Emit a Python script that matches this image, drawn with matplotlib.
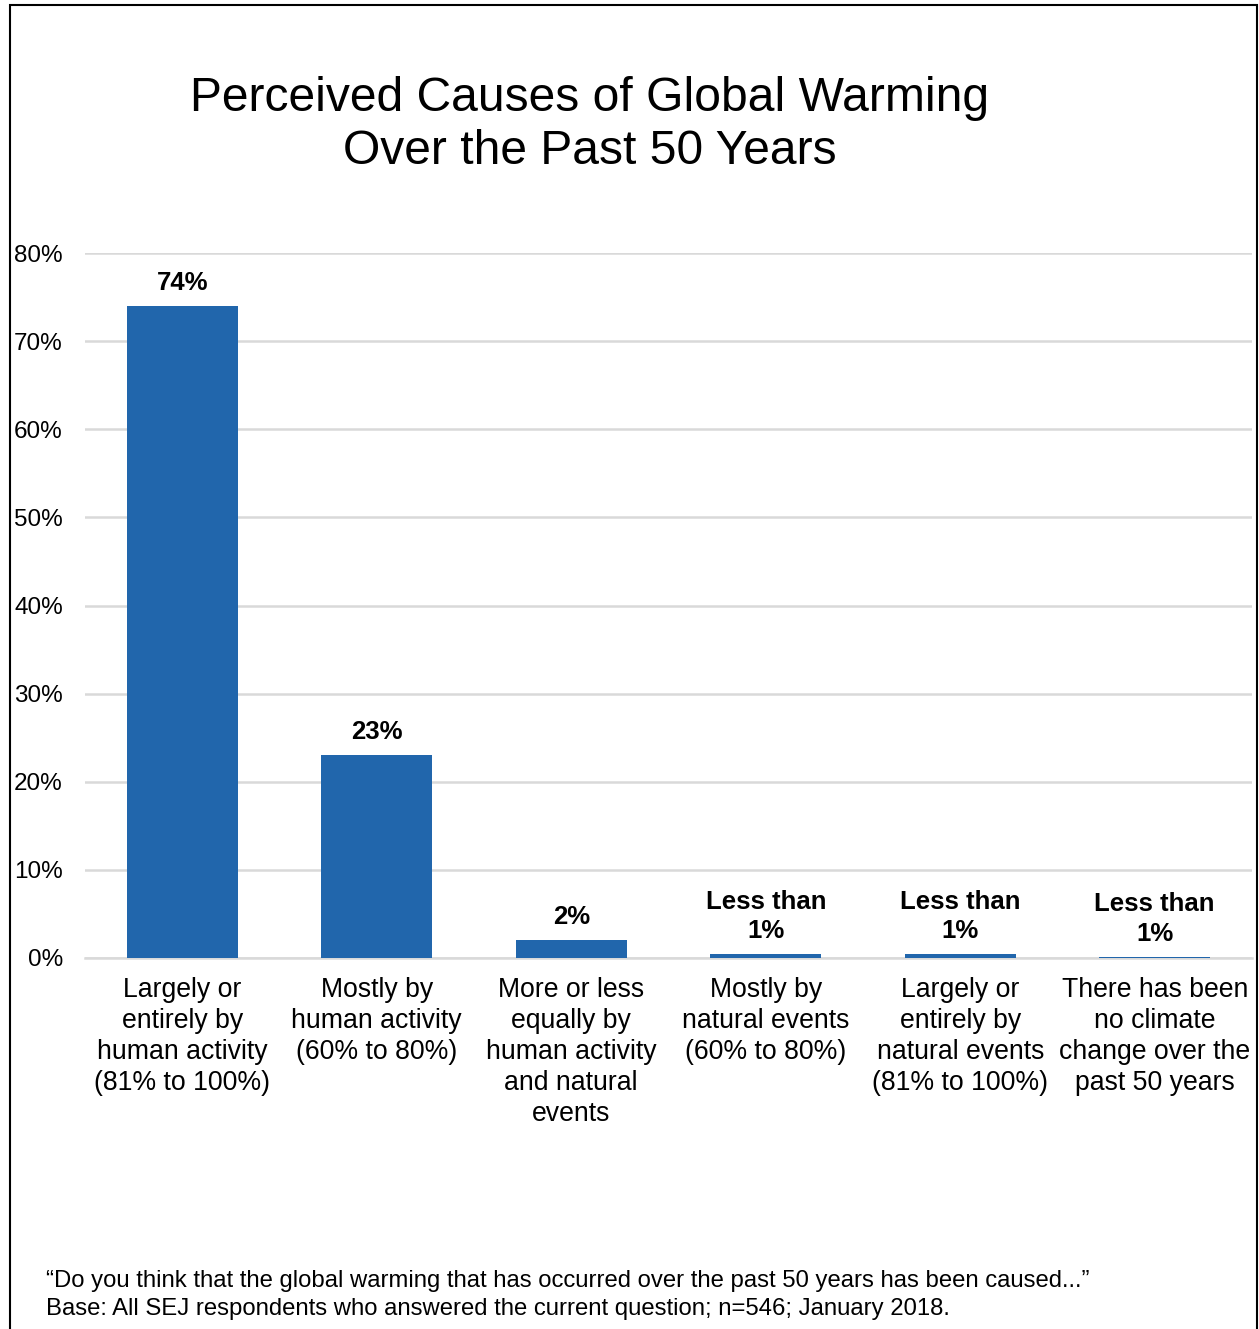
import matplotlib.pyplot as plt
import matplotlib.patches as mpatches
import numpy as np

plt.rcParams['font.family'] = ['Liberation Sans', 'DejaVu Sans']

categories = [
    "Largely or\nentirely by\nhuman activity\n(81% to 100%)",
    "Mostly by\nhuman activity\n(60% to 80%)",
    "More or less\nequally by\nhuman activity\nand natural\nevents",
    "Mostly by\nnatural events\n(60% to 80%)",
    "Largely or\nentirely by\nnatural events\n(81% to 100%)",
    "There has been\nno climate\nchange over the\npast 50 years",
]
values = [74, 23, 2, 0.4, 0.4, 0.15]
value_labels = ["74%", "23%", "2%", "Less than\n1%", "Less than\n1%", "Less than\n1%"]
ticks = [0, 10, 20, 30, 40, 50, 60, 70, 80]

W, H = 1259, 1329
fig = plt.figure(figsize=(W / 100, H / 100), dpi=100)

# outer frame
fig.patches.append(mpatches.Rectangle((10 / W, -0.01), (1257 - 10) / W, 1 - 5 / H + 0.01,
                                      transform=fig.transFigure, fill=False,
                                      edgecolor='black', linewidth=1.5))

ax = fig.add_axes([85 / W, 1 - 958 / H, (1252 - 85) / W, (958 - 253) / H])
x = np.arange(len(categories))
ax.bar(x, values, width=0.57, color='#2166ac', zorder=3)
ax.set_xlim(-0.5, 5.5)
ax.set_ylim(0, 80)
ax.set_yticks(ticks)
ax.set_yticklabels([f"{t}%" for t in ticks], fontsize=17.5)
ax.yaxis.grid(True, color='#d9d9d9', linewidth=1.8, zorder=0)
ax.set_axisbelow(True)
for s in ['top', 'right', 'left']:
    ax.spines[s].set_visible(False)
ax.spines['bottom'].set_color('#d9d9d9')
ax.spines['bottom'].set_linewidth(1.8)
ax.tick_params(axis='y', length=0, pad=16)
ax.tick_params(axis='x', length=0, pad=14)
ax.set_xticks(x)
ax.set_xticklabels(categories, fontsize=19.2, linespacing=1.25)

for xi, v, lab in zip(x, values, value_labels):
    ax.annotate(lab, (xi, v), xytext=(0, 8), textcoords='offset points',
                ha='center', va='bottom', fontsize=18.5, fontweight='bold',
                linespacing=1.3)

fig.text(590 / W, 1 - 125 / H, "Perceived Causes of Global Warming\nOver the Past 50 Years",
         ha='center', va='center', fontsize=34.6, linespacing=1.25)

fig.text(46 / W, 1 - 1281 / H,
         "\u201cDo you think that the global warming that has occurred over the past 50 years has been caused...\u201d",
         ha='left', va='center', fontsize=17.2)
fig.text(46 / W, 1 - 1309 / H,
         "Base: All SEJ respondents who answered the current question; n=546; January 2018.",
         ha='left', va='center', fontsize=17.2)

fig.savefig('out.png', dpi=100)
